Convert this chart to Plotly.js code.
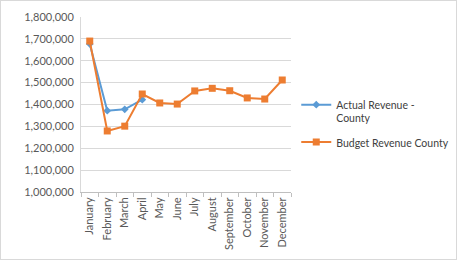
<!DOCTYPE html>
<html><head><meta charset="utf-8">
<script src="https://cdn.plot.ly/plotly-3.0.1.min.js"></script>
<style>html,body{margin:0;padding:0;background:#fff}#chart{width:457px;height:260px;box-sizing:border-box;border:1px solid #d9d9d9}</style>
</head><body><div id="chart"></div>
<script>
var months = ["January","February","March","April","May","June","July","August","September","October","November","December"];
var actualRevenue = [1677000, 1372000, 1378000, 1422000];
var budgetRevenue = [1690000, 1279000, 1301000, 1448000, 1407000, 1402000, 1462000, 1474000, 1463000, 1430000, 1425000, 1512000];
var yTickVals = [1000000,1100000,1200000,1300000,1400000,1500000,1600000,1700000,1800000];

var traces = [
  {x: months.slice(0, actualRevenue.length), y: actualRevenue, name: "Actual Revenue -<br>County", type: "scatter", mode: "lines+markers",
   legendgroup: "a", line: {color: "#5b9bd5", width: 2}, marker: {symbol: "diamond", size: 6, color: "#5b9bd5"}},
  {x: months, y: budgetRevenue, name: "Budget Revenue County", type: "scatter", mode: "lines+markers",
   legendgroup: "b", line: {color: "#ed7d31", width: 2}, marker: {symbol: "square", size: 7, color: "#ed7d31"}}
];
var layout = {
  width: 457, height: 260,
  margin: {l: 80, r: 167, t: 16, b: 69, autoexpand: false},
  paper_bgcolor: "rgba(0,0,0,0)", plot_bgcolor: "#fff",
  font: {family: "Lato, sans-serif", size: 11, color: "#595959"},
  showlegend: true,
  legend: {x: 1.025, y: 0.575, xanchor: "left", yanchor: "top", valign: "top", font: {size: 10.5, color: "#404040"}, tracegroupgap: 7, itemwidth: 30, bgcolor: "rgba(0,0,0,0)"},
  xaxis: {type: "category", tickangle: -90, showgrid: false, showline: true, linecolor: "#bfbfbf", linewidth: 1,
          ticks: "outside", tickson: "boundaries", ticklen: 4, tickcolor: "#bfbfbf", range: [-0.5, 11.5], fixedrange: true},
  yaxis: {range: [1000000, 1800000], tickvals: yTickVals, ticktext: yTickVals.map(function(v){return v.toLocaleString("en-US");}),
          showgrid: true, gridcolor: "#d9d9d9", gridwidth: 1, showline: true, linecolor: "#d9d9d9", zeroline: false, ticks: "", ticklabelstandoff: 4}
};
Plotly.newPlot("chart", traces, layout, {displayModeBar: false, staticPlot: true});
</script></body></html>
